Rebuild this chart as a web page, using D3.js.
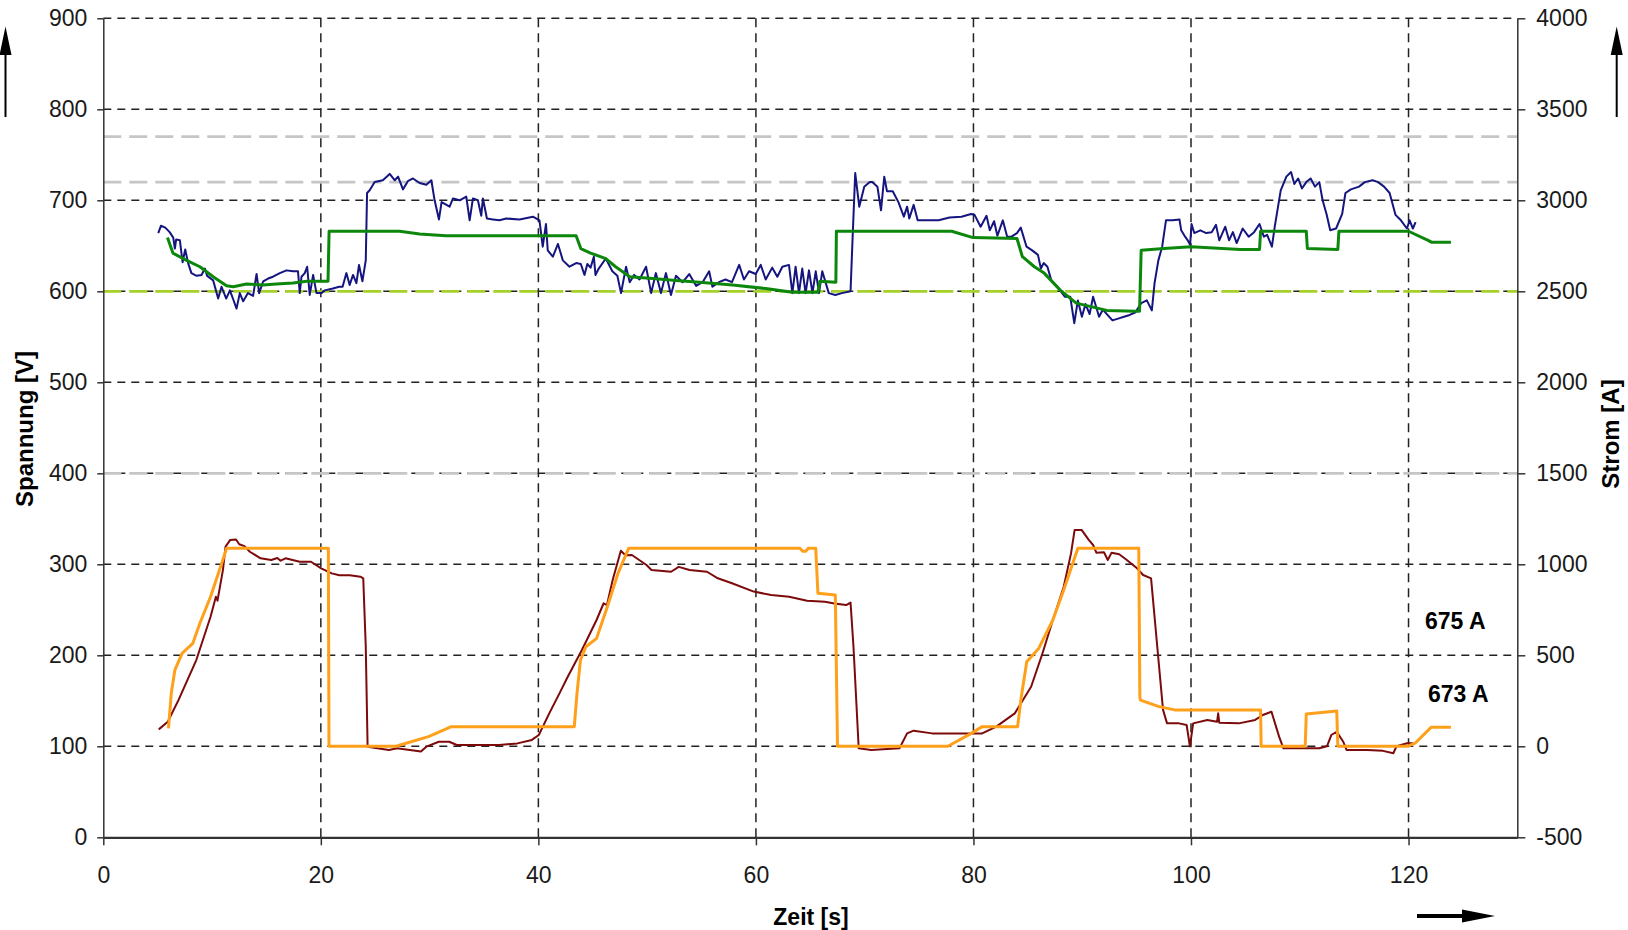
<!DOCTYPE html>
<html><head><meta charset="utf-8">
<script src="https://cdn.jsdelivr.net/npm/d3@7"></script>
<style>
  body { margin: 0; background: #fff; }
  text { font-family: "Liberation Sans", Arial, sans-serif; }
</style>
</head><body>
<svg width="1628" height="930"></svg>
<script>

// Zeit [s] / Spannung [V] - gemessene Spannung (blau)
var spannungMess = [
  [5.05,664],[5.3,672],[5.7,670],[6.1,665],[6.43,659],[6.58,647],[6.7,657],[7.04,656],[7.29,632],[7.53,646],
  [7.8,631],[8.1,620],[8.58,617],[9.03,618],[9.34,625],[9.55,617],[10.1,612],[10.56,592],[10.87,605],[11.3,592],
  [11.64,601],[11.95,591],[12.25,581],[12.55,598],[12.86,589],[13.3,598],[13.77,595],[14.09,619],[14.33,598],[14.7,611],
  [15.15,614],[15.6,616],[16.23,620],[16.84,623],[17.45,622],[17.9,622],[18.06,598],[18.22,616],[18.52,620],[18.74,627],
  [18.98,596],[19.29,618],[19.6,598],[20.05,598],[20.36,601],[21.1,603],[21.7,605],[22.0,605],[22.35,620],[22.65,607],
  [22.96,618],[23.27,609],[23.51,629],[23.82,611],[24.13,634],[24.25,708],[24.49,711],[24.95,720],[25.7,722],[26.33,729],
  [26.8,722],[27.1,726],[27.55,712],[28.0,721],[28.47,724],[29.08,719],[29.7,717],[30.16,722],[30.46,700],[30.86,679],
  [31.1,698],[31.84,693],[32.15,702],[32.76,700],[33.37,704],[33.68,678],[33.98,702],[34.44,700],[34.75,683],[34.9,702],
  [35.27,680],[35.82,679],[36.43,678],[37.04,680],[38.27,679],[39.5,682],[40.1,678],[40.4,649],[40.7,674],[40.86,645],
  [41.33,638],[41.8,652],[42.25,634],[42.86,627],[43.47,631],[43.9,630],[44.24,618],[44.5,630],[44.8,626],[45.1,638],
  [45.25,618],[45.55,625],[46.2,636],[46.8,622],[47.26,617],[47.6,598],[48.06,627],[48.4,610],[48.8,618],[49.3,613],
  [49.9,627],[50.37,598],[50.8,620],[51.27,598],[51.73,620],[52.19,596],[52.65,617],[53.26,610],[53.87,619],[54.5,606],
  [55.1,610],[55.7,622],[56.0,605],[56.6,610],[57.2,613],[57.8,610],[58.46,629],[58.9,613],[59.37,622],[59.98,619],
  [60.44,629],[60.9,613],[61.5,626],[61.97,616],[62.43,627],[63.04,629],[63.35,598],[63.65,627],[63.96,598],[64.26,625],
  [64.57,598],[64.88,623],[65.2,598],[65.5,622],[65.8,598],[66.1,622],[66.7,598],[67.3,596],[67.9,598],[68.7,600],
  [68.88,656],[69.13,730],[69.5,693],[69.96,715],[70.47,720],[70.7,720],[71.17,715],[71.5,689],[71.8,726],[72.05,710],
  [72.58,710],[73.1,698],[73.6,682],[73.9,693],[74.1,680],[74.5,695],[74.87,678],[75.75,678],[76.8,678],[77.8,681],
  [78.9,682],[79.78,685],[80.1,684],[80.66,671],[81.2,683],[81.5,667],[81.9,677],[82.2,661],[82.7,678],[83.1,660],
  [83.5,660],[84.0,664],[84.35,670],[84.88,649],[85.4,645],[85.93,640],[86.2,625],[86.45,631],[86.8,627],[87.16,612],
  [87.7,605],[88.4,594],[88.9,594],[89.27,565],[89.6,590],[89.97,572],[90.3,586],[90.68,575],[91.0,594],[91.55,572],
  [91.9,580],[92.26,575],[92.78,568],[93.3,570],[93.84,572],[94.37,574],[94.9,577],[95.42,587],[95.94,590],[96.4,579],
  [96.65,609],[97.0,634],[97.35,649],[97.7,678],[98.3,678],[98.94,679],[99.1,667],[99.46,660],[99.7,656],[99.92,651],
  [100.05,674],[100.3,664],[100.86,667],[101.4,664],[101.9,665],[102.3,673],[102.6,656],[103.15,671],[103.5,656],[103.85,665],
  [104.2,653],[104.75,669],[105.3,660],[105.8,665],[106.3,674],[106.7,660],[107.0,662],[107.44,649],[107.7,671],[108.25,711],
  [108.77,726],[109.2,731],[109.5,718],[109.85,724],[110.2,713],[110.6,720],[111.0,724],[111.4,715],[111.8,720],[112.1,700],
  [112.46,685],[112.8,667],[113.34,669],[113.9,685],[114.2,708],[114.7,712],[115.45,715],[115.98,720],[116.7,722],[117.2,720],
  [117.75,715],[118.26,708],[118.8,684],[119.3,678],[119.85,669],[120.1,678],[120.4,669],[120.65,676]
];

// Zeit [s] / Spannung [V] - Sollwert / Modell (grün)
var spannungSoll = [
  [5.9,659],[6.4,642],[7.66,634],[8.88,627],[10.1,616],[11.33,606],[11.95,605],[13.16,608],[14.7,607],[15.9,608],
  [17.45,609],[18.7,611],[20.66,611],[20.76,666],[27.25,666],[29.08,663],[31.5,661],[43.47,661],[43.9,647],[44.8,642],
  [46.2,636],[47.1,627],[48.4,616],[50.5,614],[52.65,612],[54.8,610],[57.86,607],[60.9,603],[63.36,599],[65.7,599],
  [65.88,611],[67.35,610],[67.4,666],[78.0,666],[79.96,659],[84.0,658],[84.5,638],[85.6,627],[86.5,620],[88.0,601],
  [89.45,587],[92.26,579],[94.9,578],[95.27,578],[95.42,645],[97.53,647],[100.0,649],[104.55,646],[106.3,646],[106.4,666],
  [110.6,666],[110.7,647],[113.5,646],[113.6,666],[120.0,666],[121.8,656],[122.1,654],[123.9,654]
];

// Zeit [s] / Strom [A] - gemessener Strom (dunkelrot)
var stromMess = [
  [5.1,93],[5.93,135],[6.91,254],[8.55,474],[9.86,712],[10.35,822],[10.5,800],[11.0,969],[11.24,1097],[11.67,1134],
  [12.2,1136],[12.5,1110],[12.98,1100],[13.47,1069],[14.46,1033],[15.44,1024],[16.0,1035],[16.3,1020],[16.75,1033],[18.06,1014],
  [19.1,1014],[20.03,978],[21.0,950],[21.7,940],[22.66,940],[23.64,932],[23.9,923],[24.13,547],[24.3,-2],[26.26,-20],
  [27.0,-11],[29.2,-29],[29.7,-2],[30.85,25],[31.8,25],[32.5,7],[34.8,7],[36.4,7],[38.07,16],[39.4,35],
  [40.04,62],[41.0,181],[41.94,291],[42.7,382],[44.0,529],[45.35,694],[46.0,786],[46.3,775],[46.83,914],[47.58,1074],
  [48.0,1050],[48.6,1051],[49.94,996],[50.4,969],[52.2,959],[52.9,986],[53.9,969],[55.5,959],[56.5,923],[57.8,896],
  [59.8,850],[61.4,831],[63.06,822],[64.7,800],[66.34,794],[67.2,785],[68.3,776],[68.7,790],[68.97,547],[69.45,-11],
  [70.6,-20],[73.2,-11],[73.9,71],[74.5,86],[76.2,71],[80.8,71],[82.1,108],[83.8,181],[85.3,327],[86.35,511],
  [87.3,694],[88.3,877],[88.97,1060],[89.3,1188],[89.96,1188],[90.6,1134],[91.0,1106],[91.3,1064],[92.0,1066],[92.35,1024],
  [92.7,1064],[93.4,1055],[94.1,1024],[95.04,978],[95.6,941],[96.33,923],[96.9,547],[97.43,200],[97.8,126],[98.9,126],
  [99.6,117],[99.9,0],[100.2,126],[101.5,145],[102.4,135],[102.5,181],[102.6,130],[104.4,126],[105.9,145],[106.6,172],
  [107.4,190],[108.1,53],[108.5,-11],[110.3,-11],[111.8,-11],[112.5,0],[112.9,62],[113.4,80],[114.0,25],[114.3,-20],
  [116.2,-20],[117.66,-25],[118.6,-38],[118.9,0],[119.87,17],[120.4,17]
];

// Zeit [s] / Strom [A] - Sollstrom (orange)
var stromSoll = [
  [5.99,99],[6.25,291],[6.58,419],[7.24,511],[8.23,566],[8.88,676],[9.86,822],[10.68,969],[11.34,1088],[20.69,1088],
  [20.75,0],[26.9,0],[29.9,53],[32.0,108],[43.3,108],[43.55,291],[43.87,474],[44.37,547],[45.35,593],[46.34,767],
  [47.32,950],[48.3,1088],[64.05,1088],[64.3,1072],[64.6,1072],[64.8,1088],[65.5,1088],[65.7,841],[67.3,831],[67.5,0],
  [77.65,0],[79.8,71],[80.8,108],[84.06,108],[84.4,272],[84.9,465],[86.0,538],[87.3,694],[88.3,859],[89.6,1088],
  [95.2,1088],[95.3,272],[95.35,254],[97.06,218],[98.5,200],[106.4,200],[106.45,0],[110.5,0],[110.6,178],[113.4,194],
  [113.5,0],[119.9,0],[120.6,17],[122.07,104],[123.9,104]
];

// Grenzwerte [V]
var grenzGrau = [770, 720, 400];
var grenzGruen = [600];

var xTicks = [0, 20, 40, 60, 80, 100, 120];
var vTicks = [0, 100, 200, 300, 400, 500, 600, 700, 800, 900];
var aTicks = [-500, 0, 500, 1000, 1500, 2000, 2500, 3000, 3500, 4000];

var svg = d3.select("svg");
var plotLeft = 103.3, plotRight = 1517.3, plotTop = 18.3, plotBottom = 837.3;

var x = d3.scaleLinear().domain([0, 130]).range([plotLeft, plotRight]);
var yV = d3.scaleLinear().domain([0, 900]).range([plotBottom, plotTop]);
var yA = d3.scaleLinear().domain([-500, 4000]).range([plotBottom, plotTop]);

// grid
svg.append("g").selectAll("line").data(vTicks.filter(function(d) { return d > 0; }))
  .enter().append("line")
    .attr("x1", plotLeft).attr("x2", plotRight)
    .attr("y1", yV).attr("y2", yV)
    .attr("stroke", "#222").attr("stroke-width", 1.5)
    .attr("stroke-dasharray", "8,6");

svg.append("g").selectAll("line").data(xTicks.filter(function(d) { return d > 0; }))
  .enter().append("line")
    .attr("x1", x).attr("x2", x)
    .attr("y1", plotTop).attr("y2", plotBottom)
    .attr("stroke", "#222").attr("stroke-width", 1.5)
    .attr("stroke-dasharray", "9,6");

// Grenzlinien
svg.append("g").selectAll("line").data(grenzGrau)
  .enter().append("line")
    .attr("x1", plotLeft).attr("x2", plotRight)
    .attr("y1", yV).attr("y2", yV)
    .attr("stroke", "#c6c6c6").attr("stroke-width", 2.8)
    .attr("stroke-dasharray", "18,8");

svg.append("g").selectAll("line").data(grenzGruen)
  .enter().append("line")
    .attr("x1", plotLeft).attr("x2", plotRight)
    .attr("y1", yV).attr("y2", yV)
    .attr("stroke", "#a5d12a").attr("stroke-width", 2.8)
    .attr("stroke-dasharray", "18,8");

// Kurven
var lineV = d3.line().x(function(d) { return x(d[0]); }).y(function(d) { return yV(d[1]); });
var lineA = d3.line().x(function(d) { return x(d[0]); }).y(function(d) { return yA(d[1]); });

svg.append("path").datum(spannungMess).attr("d", lineV)
  .attr("fill", "none").attr("stroke", "#15157f").attr("stroke-width", 2).attr("stroke-linejoin", "round");
svg.append("path").datum(spannungSoll).attr("d", lineV)
  .attr("fill", "none").attr("stroke", "#0c870c").attr("stroke-width", 3).attr("stroke-linejoin", "round");
svg.append("path").datum(stromMess).attr("d", lineA)
  .attr("fill", "none").attr("stroke", "#7d0a0a").attr("stroke-width", 2).attr("stroke-linejoin", "round");
svg.append("path").datum(stromSoll).attr("d", lineA)
  .attr("fill", "none").attr("stroke", "#ffa01a").attr("stroke-width", 3).attr("stroke-linejoin", "round");

// Achsen
function styleAxis(g) {
  g.select(".domain").attr("stroke", "#333").attr("stroke-width", 1.5);
  g.selectAll(".tick line").attr("stroke", "#333").attr("stroke-width", 1.5);
  g.selectAll(".tick text").attr("fill", "#1a1a1a").style("font-size", "23px")
    .style("font-family", "'Liberation Sans', Arial, sans-serif");
}
var plain = function(d) { return String(d); };

svg.append("g").attr("transform", "translate(" + plotLeft + ",0)")
  .call(d3.axisLeft(yV).tickValues(vTicks).tickFormat(plain).tickSize(6).tickPadding(10).tickSizeOuter(0))
  .call(styleAxis);

svg.append("g").attr("transform", "translate(" + plotRight + ",0)")
  .call(d3.axisRight(yA).tickValues(aTicks).tickFormat(plain).tickSize(8).tickPadding(11).tickSizeOuter(0))
  .call(styleAxis);

svg.append("g").attr("transform", "translate(0," + plotBottom + ")")
  .call(d3.axisBottom(x).tickValues(xTicks).tickFormat(plain).tickSize(8).tickPadding(21).tickSizeOuter(0))
  .call(styleAxis)
  .call(function(g) { g.select(".domain").attr("stroke-width", 2.2); });

// Achsentitel
svg.append("text").attr("transform", "translate(33,429) rotate(-90)")
  .attr("text-anchor", "middle").style("font-size", "24px").style("font-weight", "bold")
  .text("Spannung [V]");
svg.append("text").attr("transform", "translate(1619,434) rotate(-90)")
  .attr("text-anchor", "middle").style("font-size", "24px").style("font-weight", "bold")
  .text("Strom [A]");
svg.append("text").attr("x", 811).attr("y", 925)
  .attr("text-anchor", "middle").style("font-size", "23px").style("font-weight", "bold")
  .text("Zeit [s]");

// Beschriftungen
svg.append("text").attr("x", 1425).attr("y", 629)
  .style("font-size", "23px").style("font-weight", "bold").text("675 A");
svg.append("text").attr("x", 1428).attr("y", 702)
  .style("font-size", "23px").style("font-weight", "bold").text("673 A");

// Pfeile
function arrowUp(cx) {
  svg.append("line").attr("x1", cx).attr("x2", cx).attr("y1", 117).attr("y2", 50)
    .attr("stroke", "#000").attr("stroke-width", 2);
  svg.append("path").attr("d", "M" + cx + ",26.5 L" + (cx - 6) + ",55 L" + (cx + 6) + ",55 Z").attr("fill", "#000");
}
arrowUp(5.5);
arrowUp(1616.7);
svg.append("line").attr("x1", 1417).attr("x2", 1470).attr("y1", 916).attr("y2", 916)
  .attr("stroke", "#000").attr("stroke-width", 4);
svg.append("path").attr("d", "M1495,916 L1462,909.5 L1462,922.5 Z").attr("fill", "#000");

</script>
</body></html>
